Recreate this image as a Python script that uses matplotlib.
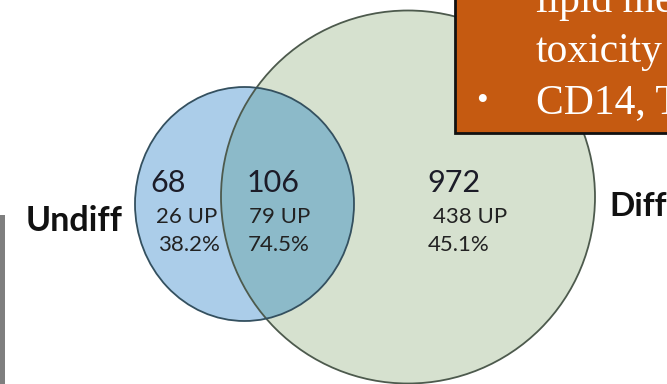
import matplotlib.pyplot as plt
from matplotlib.patches import Ellipse, Rectangle

# region counts: undiff only, shared, diff only
counts = [68, 106, 972]
up_counts = [26, 79, 438]
set_names = ["Undiff", "Diff"]
box_lines = ["lipid metabolism and", "toxicity", "CD14, TLR4"]

W, H = 667, 384
fig = plt.figure(figsize=(W / 100, H / 100), dpi=100)
ax = fig.add_axes([0, 0, 1, 1])
ax.set_xlim(0, W)
ax.set_ylim(H, 0)
ax.axis("off")

blue = "#abcde9"
green = "#d6e1cf"
overlap = "#8cbac9"

# big (Diff) and small (Undiff) circles
big = Ellipse((408, 197), 374, 373, facecolor=green, edgecolor="none", zorder=1)
small = Ellipse((244.5, 204), 219, 234, facecolor=blue, edgecolor="none", zorder=2)
ax.add_patch(big)
ax.add_patch(small)

# shared region: big circle clipped to the small one
inter = Ellipse((408, 197), 374, 373, facecolor=overlap, edgecolor="none", zorder=3)
ax.add_patch(inter)
inter.set_clip_path(small)

ax.add_patch(Ellipse((408, 197), 374, 373, facecolor="none", edgecolor="#4d5a4d", lw=1.3, zorder=4))
ax.add_patch(Ellipse((244.5, 204), 219, 234, facecolor="none", edgecolor="#34505f", lw=1.3, zorder=4))

font = "Lato"
num_pos = [(168, 183), (273, 183), (454, 183)]
up_pos = [(187, 217), (280, 217), (470, 217)]
pct_pos = [(189, 245), (279, 245), (459, 245)]
for i in range(3):
    ax.text(*num_pos[i], str(counts[i]), ha="center", va="center",
            fontsize=22, family=font, color="#1c1c28", zorder=5)
    ax.text(*up_pos[i], f"{up_counts[i]} UP", ha="center", va="center",
            fontsize=16, family=font, color="#222222", zorder=5)
    ax.text(*pct_pos[i], f"{100 * up_counts[i] / counts[i]:.1f}%", ha="center", va="center",
            fontsize=16, family=font, color="#222222", zorder=5)

ax.text(74, 221, set_names[0], ha="center", va="center", fontsize=24.5,
        family=font, fontweight="bold", color="#111111", zorder=5)
ax.text(609, 206, set_names[1], ha="left", va="center", fontsize=24,
        family=font, fontweight="bold", color="#111111", zorder=5)

# grey side bar
ax.add_patch(Rectangle((0, 215), 5, H - 215, facecolor="#7f7f7f", edgecolor="none", zorder=6))

# orange callout box
ax.add_patch(Rectangle((455, -10), 230, 143, facecolor="#c55a11", edgecolor="#111111",
                       lw=2, zorder=7))
serif = "Liberation Serif"
ax.text(536, 12, box_lines[0], ha="left", va="baseline", fontsize=30,
        family=serif, color="white", zorder=8, clip_on=True)
ax.text(536, 62, box_lines[1], ha="left", va="baseline", fontsize=30,
        family=serif, color="white", zorder=8, clip_on=True)
ax.text(482, 110, "\u2022", ha="center", va="baseline", fontsize=24,
        family=serif, color="white", zorder=8)
ax.text(536, 113, box_lines[2], ha="left", va="baseline", fontsize=30,
        family=serif, color="white", zorder=8, clip_on=True)

fig.savefig("out.png", dpi=100)
